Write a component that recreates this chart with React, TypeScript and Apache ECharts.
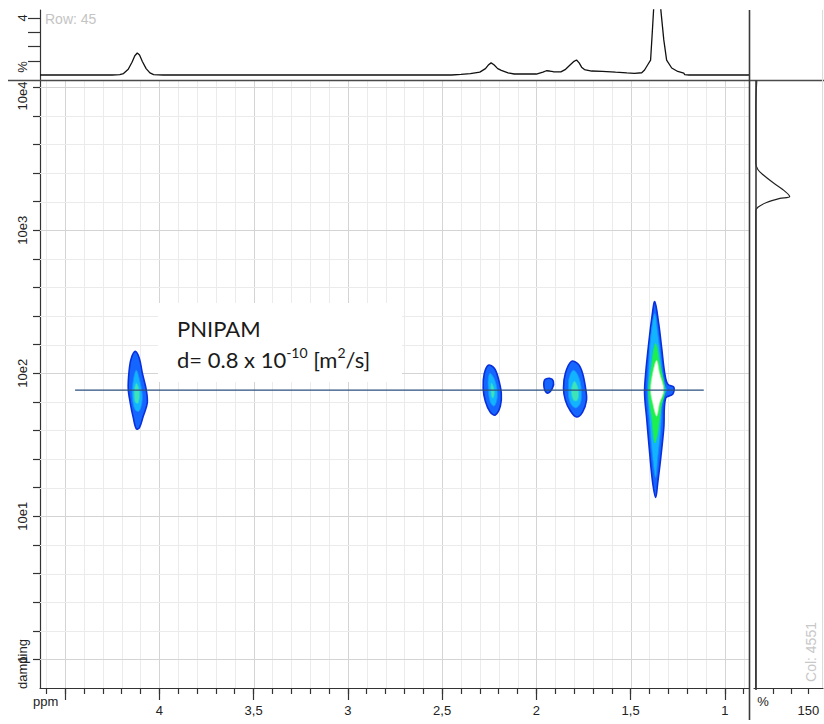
import React, { useEffect, useRef } from "react";
import * as echarts from "echarts";

// ---------- axes ----------
const PPM_MIN = 0.872;
const PPM_MAX = 4.633;
const LOG_MIN = -0.2;
const LOG_MAX = 4.05;
const X_MINOR_TICKS = [0.9, 1.0, 1.1, 1.2, 1.3, 1.4, 1.5, 1.6, 1.7, 1.8, 1.9, 2.0, 2.1, 2.2, 2.3, 2.4, 2.5, 2.6, 2.7, 2.8, 2.9, 3.0, 3.1, 3.2, 3.3, 3.4, 3.5, 3.6, 3.7, 3.8, 3.9, 4.0, 4.1, 4.2, 4.3, 4.4, 4.5, 4.6];
const X_MAJOR_TICKS = [1, 1.5, 2, 2.5, 3, 3.5, 4, 4.5];
const X_LABELS = [1, 1.5, 2, 2.5, 3, 3.5, 4];
const Y_TICKS = [0, 0.2, 0.4, 0.6, 0.8, 1, 1.2, 1.4, 1.6, 1.8, 2, 2.2, 2.4, 2.6, 2.8, 3, 3.2, 3.4, 3.6, 3.8, 4];
const Y_LABELS = [0, 1, 2, 3];
const Y_TOP_LABEL = "10e4";
const TOP_TICKS = [1, 2, 3, 4];
const TOP_LABELS = [4];
const RIGHT_TICKS = [50, 100, 150];
const RIGHT_LABELS = [150];

// ---------- 1D projection on top (ppm, %) ----------
const TOP_PPM = [4.633, 4.25, 4.21, 4.19, 4.165, 4.145, 4.13, 4.117, 4.105, 4.09, 4.07, 4.05, 4.03, 3.98, 2.45, 2.40, 2.35, 2.30, 2.27, 2.255, 2.24, 2.225, 2.205, 2.186, 2.15, 2.117, 2.0, 1.965, 1.947, 1.93, 1.91, 1.87, 1.845, 1.82, 1.80, 1.787, 1.773, 1.76, 1.745, 1.707, 1.65, 1.58, 1.52, 1.48, 1.441, 1.426, 1.41, 1.394, 1.385, 1.378, 1.37, 1.36, 1.35, 1.34, 1.324, 1.309, 1.282, 1.25, 1.218, 1.213, 1.19, 0.872];
const TOP_INT = [0, 0, 0.02, 0.1, 0.4, 0.9, 1.35, 1.54, 1.4, 0.95, 0.45, 0.15, 0.03, 0, 0, 0.04, 0.1, 0.2, 0.45, 0.7, 0.85, 0.72, 0.45, 0.33, 0.15, 0.07, 0.07, 0.2, 0.3, 0.28, 0.23, 0.22, 0.4, 0.72, 0.96, 1.05, 0.85, 0.55, 0.38, 0.28, 0.26, 0.2, 0.15, 0.12, 0.16, 0.35, 0.7, 1.05, 3, 4.6, 9, 12, 8, 4.6, 2.46, 1.05, 0.49, 0.25, 0.14, 0.02, 0, 0];

// ---------- 1D projection on the right (%, log D) ----------
const RIGHT_PCT = [3, 1, 0, 0, 0, 6, 20, 49, 77, 97, 69, 31, 6, 0, 0];
const RIGHT_LOG = [4.05, 3.95, 3.85, 3.6, 3.47, 3.424, 3.389, 3.333, 3.285, 3.236, 3.222, 3.194, 3.16, 3.132, -0.2];

// ---------- diffusion line ----------
const LINE_PPM = [4.447, 1.112];
const LINE_LOG = 1.882;

// ---------- contours (ppm, log D) ----------
const P41_L0 = [[4.128, 2.153], [4.106, 2.104], [4.09, 2.0], [4.069, 1.882], [4.064, 1.792], [4.085, 1.701], [4.106, 1.618], [4.122, 1.611], [4.138, 1.688], [4.154, 1.792], [4.165, 1.896], [4.16, 2.021], [4.149, 2.104]];
const P41_L1 = [[4.122, 2.021], [4.101, 1.931], [4.09, 1.826], [4.106, 1.736], [4.128, 1.743], [4.144, 1.84], [4.138, 1.951]];
const P41_L2 = [[4.122, 1.931], [4.106, 1.875], [4.112, 1.792], [4.128, 1.799], [4.133, 1.875]];

const P225_L0 = [[2.255, 2.056], [2.223, 2.035], [2.202, 1.965], [2.186, 1.861], [2.191, 1.771], [2.218, 1.708], [2.245, 1.729], [2.271, 1.806], [2.282, 1.896], [2.277, 1.993]];
const P225_L1 = [[2.245, 2.0], [2.218, 1.944], [2.207, 1.84], [2.223, 1.771], [2.245, 1.799], [2.255, 1.896], [2.255, 1.965]];
const P225_L2 = [[2.239, 1.931], [2.223, 1.882], [2.229, 1.826], [2.239, 1.847]];

const P196_L0 = [[1.957, 1.951], [1.931, 1.965], [1.91, 1.944], [1.915, 1.896], [1.941, 1.861], [1.957, 1.889]];

const P18_L0 = [[1.814, 2.083], [1.777, 2.063], [1.755, 2.0], [1.739, 1.896], [1.734, 1.812], [1.755, 1.729], [1.787, 1.694], [1.819, 1.736], [1.846, 1.812], [1.856, 1.896], [1.846, 2.0]];
const P18_L1 = [[1.803, 2.021], [1.777, 1.979], [1.761, 1.882], [1.766, 1.792], [1.793, 1.757], [1.824, 1.806], [1.83, 1.91], [1.824, 1.979]];
const P18_L2 = [[1.798, 1.944], [1.777, 1.882], [1.782, 1.812], [1.803, 1.812], [1.814, 1.882]];

const P137_L0 = [[1.372, 2.5], [1.351, 2.347], [1.335, 2.174], [1.319, 2.0], [1.303, 1.924], [1.271, 1.903], [1.277, 1.854], [1.314, 1.826], [1.324, 1.618], [1.34, 1.41], [1.356, 1.236], [1.367, 1.132], [1.383, 1.236], [1.399, 1.444], [1.415, 1.688], [1.426, 1.861], [1.42, 2.0], [1.404, 2.208], [1.388, 2.382]];
const P137_L1 = [[1.372, 2.417], [1.356, 2.278], [1.34, 2.104], [1.324, 1.931], [1.309, 1.882], [1.33, 1.826], [1.34, 1.618], [1.356, 1.41], [1.367, 1.271], [1.383, 1.41], [1.399, 1.653], [1.41, 1.861], [1.404, 2.035], [1.394, 2.243]];
const P137_L3 = [[1.367, 2.208], [1.346, 2.069], [1.319, 1.882], [1.34, 1.757], [1.356, 1.583], [1.372, 1.514], [1.388, 1.688], [1.404, 1.861], [1.388, 2.069]];
const P137_L4 = [[1.362, 2.09], [1.346, 2.0], [1.324, 1.882], [1.346, 1.792], [1.362, 1.701], [1.383, 1.792], [1.394, 1.882], [1.383, 2.0]];

const CONTOURS = [
  { level: 0, pts: P41_L0 }, { level: 1, pts: P41_L1 }, { level: 2, pts: P41_L2 },
  { level: 0, pts: P225_L0 }, { level: 1, pts: P225_L1 }, { level: 2, pts: P225_L2 },
  { level: 0, pts: P196_L0 },
  { level: 0, pts: P18_L0 }, { level: 1, pts: P18_L1 }, { level: 2, pts: P18_L2 },
  { level: 0, pts: P137_L0 }, { level: 1, pts: P137_L1 }, { level: 3, pts: P137_L3 }, { level: 4, pts: P137_L4 },
];

const LEVEL_STYLE: Record<number, any> = {
  0: { fill: "#1466ff", stroke: "#0a30dc", lineWidth: 1.6 },
  1: { fill: "#12b4ff", stroke: "#1a8cff", lineWidth: 0.8 },
  2: { fill: "#3ee4b8", stroke: "#28d0d8", lineWidth: 0.8 },
  3: { fill: "#1cf04e", stroke: "#20e070", lineWidth: 0.8 },
  4: { fill: "#ffffff", stroke: "#9cf59c", lineWidth: 0.8 },
};

const FONT = "'Liberation Sans', Arial, sans-serif";
const TXT_FONT = "Lato, 'Open Sans', sans-serif";
const AXIS_COLOR = "#333";
const GRID_MAJOR = "#d4d4d4";
const GRID_MINOR = "#ebebeb";

const isMultiple = (v: number, step: number) => Math.abs(v / step - Math.round(v / step)) < 1e-6;
const fmtPpm = (v: number) => String(Math.round(v * 10) / 10).replace(".", ",");
const fmtLog = (v: number) => {
  const r = Math.round(v);
  return r === 0 ? "1" : "10e" + r;
};

function buildOption(): any {
  return {
    animation: false,
    backgroundColor: "#ffffff",
    textStyle: { fontFamily: FONT },
    grid: [
      { left: 40, top: 80, width: 709, height: 608 },
      { left: 40, top: 10, width: 709, height: 70 },
      { left: 754, top: 80, width: 69, height: 608 },
      { left: 40, top: 80, width: 709, height: 608 },
    ],
    xAxis: [
      {
        gridIndex: 0, type: "value", inverse: true, min: PPM_MIN, max: PPM_MAX,
        axisLine: { show: true, onZero: false, lineStyle: { color: AXIS_COLOR, width: 1.2 } },
        axisTick: { show: true, length: 6, customValues: X_MINOR_TICKS, lineStyle: { color: AXIS_COLOR, width: 1.2 } },
        axisLabel: { show: false },
        splitLine: { show: false },
      },
      { gridIndex: 1, type: "value", inverse: true, min: PPM_MIN, max: PPM_MAX, show: false },
      {
        gridIndex: 2, type: "value", min: -5, max: 192,
        axisLine: { show: true, onZero: false, lineStyle: { color: AXIS_COLOR, width: 1.2 } },
        axisTick: { show: true, length: 6, customValues: RIGHT_TICKS, lineStyle: { color: AXIS_COLOR, width: 1.2 } },
        axisLabel: { show: true, customValues: RIGHT_LABELS, margin: 16, color: "#222", fontSize: 13, fontFamily: FONT },
        splitLine: { show: false },
      },
      {
        gridIndex: 3, type: "value", inverse: true, min: PPM_MIN, max: PPM_MAX,
        axisLine: { show: false, onZero: false },
        axisTick: { show: true, length: 12, customValues: X_MAJOR_TICKS, lineStyle: { color: AXIS_COLOR, width: 1.2 } },
        axisLabel: { show: true, customValues: X_LABELS, margin: 16, color: "#222", fontSize: 13, fontFamily: FONT, formatter: fmtPpm },
        splitLine: { show: false },
      },
    ],
    yAxis: [
      {
        gridIndex: 0, type: "value", min: LOG_MIN, max: LOG_MAX,
        axisLine: { show: true, onZero: false, lineStyle: { color: AXIS_COLOR, width: 1.2 } },
        axisTick: { show: true, length: 7, customValues: Y_TICKS, lineStyle: { color: AXIS_COLOR, width: 1.2 } },
        axisLabel: { show: true, customValues: Y_LABELS, rotate: 90, margin: 11, color: "#222", fontSize: 13, fontFamily: FONT, formatter: fmtLog },
        splitLine: { show: false },
      },
      {
        gridIndex: 1, type: "value", min: -0.35, max: 4.56,
        axisLine: { show: true, onZero: false, lineStyle: { color: AXIS_COLOR, width: 1.2 } },
        axisTick: { show: true, length: 12, customValues: TOP_TICKS, lineStyle: { color: AXIS_COLOR, width: 1.2 } },
        axisLabel: { show: true, customValues: TOP_LABELS, rotate: 90, margin: 11, color: "#222", fontSize: 13, fontFamily: FONT },
        splitLine: { show: false },
      },
      { gridIndex: 2, type: "value", min: LOG_MIN, max: LOG_MAX, show: false },
      { gridIndex: 3, type: "value", min: LOG_MIN, max: LOG_MAX, show: false },
    ],
    series: [
      // vertical grid lines at every ppm tick
      {
        type: "custom",
        xAxisIndex: 0,
        yAxisIndex: 0,
        z: 1,
        silent: true,
        data: X_MINOR_TICKS.map((v) => [v, LOG_MIN]),
        renderItem: (params: any, api: any) => {
          const v = api.value(0);
          const cs = params.coordSys;
          const x = Math.round(api.coord([v, LOG_MIN])[0]) + 0.5;
          return {
            type: "line",
            shape: { x1: x, y1: cs.y, x2: x, y2: cs.y + cs.height },
            style: { stroke: isMultiple(v, 0.5) ? GRID_MAJOR : GRID_MINOR, lineWidth: 1 },
          };
        },
      },
      // horizontal grid lines at every log tick
      {
        type: "custom",
        xAxisIndex: 0,
        yAxisIndex: 0,
        z: 1,
        silent: true,
        data: Y_TICKS.map((v) => [PPM_MIN, v]),
        renderItem: (params: any, api: any) => {
          const v = api.value(1);
          const cs = params.coordSys;
          const y = Math.round(api.coord([PPM_MIN, v])[1]) + 0.5;
          return {
            type: "line",
            shape: { x1: cs.x, y1: y, x2: cs.x + cs.width, y2: y },
            style: { stroke: isMultiple(v, 1) ? GRID_MAJOR : GRID_MINOR, lineWidth: 1 },
          };
        },
      },
      {
        type: "custom",
        xAxisIndex: 0,
        yAxisIndex: 0,
        z: 3,
        silent: true,
        data: CONTOURS.map((c) => [c.pts[0][0], c.pts[0][1]]),
        renderItem: (params: any, api: any) => {
          const c = CONTOURS[params.dataIndex];
          const st = LEVEL_STYLE[c.level];
          return {
            type: "polygon",
            shape: { points: c.pts.map((p) => api.coord(p)), smooth: 0.35 },
            style: { fill: st.fill, stroke: st.stroke, lineWidth: st.lineWidth },
          };
        },
      },
      {
        type: "line",
        xAxisIndex: 0,
        yAxisIndex: 0,
        z: 6,
        silent: true,
        symbol: "none",
        data: LINE_PPM.map((p) => [p, LINE_LOG]),
        lineStyle: { color: "#2b4f7e", width: 1.3 },
      },
      {
        type: "line",
        xAxisIndex: 1,
        yAxisIndex: 1,
        silent: true,
        symbol: "none",
        clip: true,
        data: TOP_PPM.map((p, i) => [p, TOP_INT[i]]),
        lineStyle: { color: "#111", width: 1.3 },
      },
      {
        type: "line",
        xAxisIndex: 2,
        yAxisIndex: 2,
        silent: true,
        symbol: "none",
        smooth: 0.3,
        data: RIGHT_PCT.map((p, i) => [p, RIGHT_LOG[i]]),
        lineStyle: { color: "#222", width: 1.2 },
      },
    ],
    graphic: [
      { type: "line", z: 50, shape: { x1: 8, y1: 80.5, x2: 824, y2: 80.5 }, style: { stroke: "#4a4a4a", lineWidth: 1.6 } },
      { type: "line", z: 50, shape: { x1: 749.5, y1: 10, x2: 749.5, y2: 720 }, style: { stroke: "#3a3a3a", lineWidth: 1.6 } },
      { type: "line", z: 50, shape: { x1: 756, y1: 80, x2: 756, y2: 690 }, style: { stroke: "#3a3a3a", lineWidth: 1.6 } },
      { type: "line", z: 50, shape: { x1: 822.5, y1: 10, x2: 822.5, y2: 688 }, style: { stroke: "#dcdcdc", lineWidth: 1 } },
      { type: "rect", z: 40, shape: { x: 158, y: 303, width: 244, height: 79 }, style: { fill: "#ffffff" } },
      {
        type: "text", z: 41, x: 177, y: 328,
        style: { text: "PNIPAM", fontFamily: TXT_FONT, fontSize: 22, fill: "#1a1a1a", textVerticalAlign: "middle" },
      },
      {
        type: "text", z: 41, x: 177, y: 359,
        style: {
          text: "{n|d= 0.8 x 10}{s|-10}{n| [m}{s|2}{n|/s]}",
          textVerticalAlign: "middle",
          fill: "#1a1a1a",
          rich: {
            n: { fontFamily: TXT_FONT, fontSize: 22, lineHeight: 28, fill: "#1a1a1a" },
            s: { fontFamily: TXT_FONT, fontSize: 14, lineHeight: 16, verticalAlign: "top", fill: "#1a1a1a" },
          },
        },
      },
      { type: "text", z: 41, x: 22, y: 96, rotation: Math.PI / 2, style: { text: Y_TOP_LABEL, fontFamily: FONT, fontSize: 13, fill: "#222", textAlign: "center", textVerticalAlign: "middle" } },
      { type: "text", z: 41, x: 45, y: 19, style: { text: "Row: 45", fontFamily: FONT, fontSize: 14, fill: "#c4c4c4", textVerticalAlign: "middle" } },
      { type: "text", z: 41, x: 811, y: 652, rotation: Math.PI / 2, style: { text: "Col: 4551", fontFamily: FONT, fontSize: 14, fill: "#c8c8c8", textAlign: "center", textVerticalAlign: "middle" } },
      { type: "text", z: 41, x: 22, y: 67, rotation: Math.PI / 2, style: { text: "%", fontFamily: FONT, fontSize: 13, fill: "#222", textAlign: "center", textVerticalAlign: "middle" } },
      { type: "text", z: 41, x: 22, y: 664, rotation: Math.PI / 2, style: { text: "damping", fontFamily: FONT, fontSize: 13, fill: "#222", textAlign: "center", textVerticalAlign: "middle" } },
      { type: "text", z: 41, x: 33, y: 701, style: { text: "ppm", fontFamily: FONT, fontSize: 13, fill: "#222", textVerticalAlign: "middle" } },
      { type: "text", z: 41, x: 763, y: 701, style: { text: "%", fontFamily: FONT, fontSize: 13, fill: "#222", textAlign: "center", textVerticalAlign: "middle" } },
    ],
  };
}

export default function App() {
  const ref = useRef<HTMLDivElement>(null);
  useEffect(() => {
    if (!ref.current) return;
    const chart = echarts.init(ref.current, null, { renderer: "svg" });
    chart.setOption(buildOption());
    return () => chart.dispose();
  }, []);
  return <div ref={ref} style={{ position: "fixed", left: 0, top: 0, width: 824, height: 724 }} />;
}
